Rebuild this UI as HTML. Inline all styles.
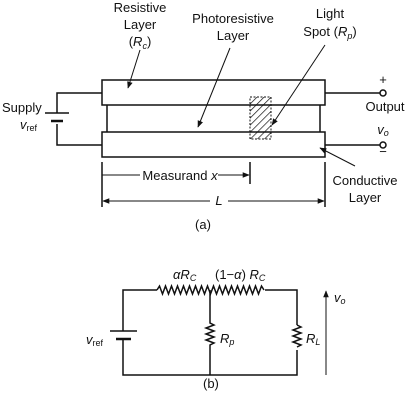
<!DOCTYPE html>
<html><head><meta charset="utf-8"><style>
body{margin:0;background:#fff}
svg{display:block}
text{font-family:"Liberation Sans",sans-serif;font-size:13px;fill:#111}
.i{font-style:italic}
</style></head><body>
<svg width="407" height="400" viewBox="0 0 407 400">
<defs>
<marker id="ah" viewBox="0 0 10 10" refX="9" refY="5" markerWidth="7" markerHeight="7" orient="auto-start-reverse"><path d="M0,1 L10,5 L0,9 z" fill="#111"/></marker>
<pattern id="hatch" width="5" height="5" patternUnits="userSpaceOnUse" patternTransform="rotate(45)"><line x1="0" y1="0" x2="0" y2="5" stroke="#111" stroke-width="1.4"/></pattern>
</defs>
<g stroke="#111" stroke-width="1.5" fill="none">
<rect x="102" y="80" width="223" height="25" fill="#fff"/>
<line x1="107" y1="105" x2="107" y2="132"/><line x1="320" y1="105" x2="320" y2="132"/>
<rect x="102" y="132" width="223" height="25" fill="#fff"/>
<rect x="250" y="97" width="21" height="42" fill="url(#hatch)" stroke-dasharray="2,1.5" stroke-width="1"/>
<path d="M102,93 H57 V113 M57,124 V145 H102"/>
<line x1="45" y1="113" x2="69" y2="113"/><line x1="51" y1="121" x2="63" y2="121" stroke-width="2.5"/>
<path d="M325,93 H380 M325,145 H380"/>
<circle cx="383" cy="93" r="3" fill="#fff"/><circle cx="383" cy="145" r="3" fill="#fff"/>
<line x1="102" y1="162" x2="102" y2="207"/><line x1="325" y1="162" x2="325" y2="207"/><line x1="250" y1="162" x2="250" y2="184"/>
<line x1="102" y1="175" x2="140" y2="175" stroke-width="1"/><line x1="218" y1="175" x2="249" y2="175" stroke-width="1" marker-end="url(#ah)"/>
<line x1="103" y1="201" x2="210" y2="201" stroke-width="1" marker-start="url(#ah)"/><line x1="228" y1="201" x2="324" y2="201" stroke-width="1" marker-end="url(#ah)"/>
<line x1="140" y1="50" x2="128" y2="88" stroke-width="1" marker-end="url(#ah)"/>
<line x1="230" y1="48" x2="198" y2="127" stroke-width="1" marker-end="url(#ah)"/>
<line x1="325" y1="45" x2="272" y2="125" stroke-width="1" marker-end="url(#ah)"/>
<line x1="355" y1="166" x2="320" y2="148" stroke-width="1" marker-end="url(#ah)"/>
</g>
<g text-anchor="middle">
<text x="140" y="12">Resistive</text><text x="140" y="29">Layer</text><text x="140" y="46">(<tspan class="i">R<tspan font-size="9" dy="3">c</tspan></tspan><tspan dy="-3">)</tspan></text>
<text x="233" y="23">Photoresistive</text><text x="233" y="40">Layer</text>
<text x="330" y="18">Light</text><text x="330" y="36">Spot (<tspan class="i">R<tspan font-size="9" dy="3">p</tspan></tspan><tspan dy="-3">)</tspan></text>
<text x="383" y="84">+</text><text x="385" y="111">Output</text>
<text x="383" y="134" class="i">v<tspan font-size="9" dy="2">o</tspan></text><text x="383" y="156">−</text>
<text x="365" y="185">Conductive</text><text x="365" y="202">Layer</text>
<text x="180" y="180">Measurand <tspan class="i">x</tspan></text>
<text x="219" y="205" class="i">L</text>
<text x="203" y="229">(a)</text>
</g>
<text x="2" y="112">Supply</text><text x="20" y="129" class="i">v<tspan font-size="9" dy="2" font-style="normal">ref</tspan></text>
<g stroke="#111" stroke-width="1.5" fill="none">
<path d="M157,290 H123 V331 M123,339 V375 H297 V350 M297,325 V290 H265"/>
<line x1="110" y1="331" x2="137" y2="331"/><line x1="116" y1="339" x2="131" y2="339" stroke-width="2.5"/>
<path d="M157,290 l2.5,-4 l3,8 l3,-8 l3,8 l3,-8 l3,8 l3,-8 l3,8 l3,-8 l3,8 l3,-8 l3,8 l3,-8 l3,8 l3,-8 l3,8 l3,-8 l3,8 l3,-8 l3,8 l3,-8 l3,8 l3,-8 l3,8 l3,-8 l3,8 l3,-8 l3,8 l3,-8 l3,8 l3,-8 l3,8 l3,-8 l3,8 l3,-8 l2.5,4"/>
<path d="M210,290 V323 l4,2 l-8,3 l8,3 l-8,3 l8,3 l-8,3 l8,3 l-4,2 V375"/>
<path d="M297,325 l4,2 l-8,3 l8,3 l-8,3 l8,3 l-8,3 l8,3 l-4,2"/>
<line x1="326" y1="375" x2="326" y2="291" stroke-width="1" marker-end="url(#ah)"/>
</g>
<text x="173" y="279" class="i">αR<tspan font-size="9" dy="2">C</tspan></text>
<text x="215" y="279">(1−<tspan class="i">α</tspan>) <tspan class="i">R<tspan font-size="9" dy="2">C</tspan></tspan></text>
<text x="220" y="343" class="i">R<tspan font-size="9" dy="2">p</tspan></text>
<text x="306" y="343" class="i">R<tspan font-size="9" dy="2">L</tspan></text>
<text x="334" y="302" class="i">v<tspan font-size="9" dy="2">o</tspan></text>
<text x="86" y="344" class="i">v<tspan font-size="9" dy="2" font-style="normal">ref</tspan></text>
<text x="203" y="388">(b)</text>
</svg>
</body></html>
